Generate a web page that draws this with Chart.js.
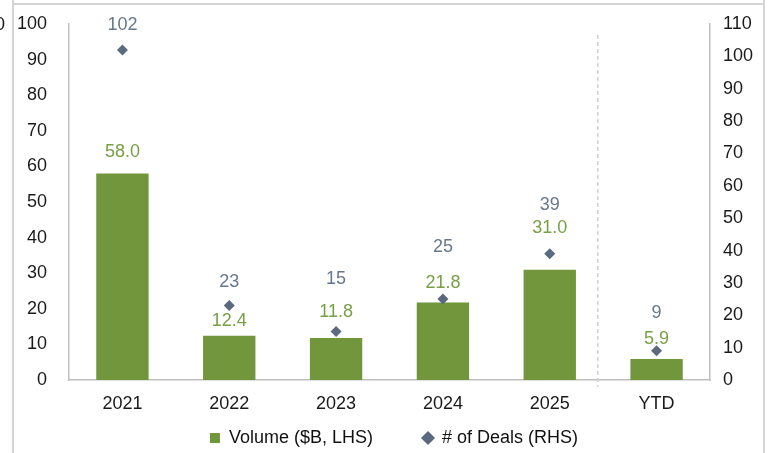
<!DOCTYPE html>
<html>
<head>
  <title>Volume and Deals</title>
  <script src="https://cdn.jsdelivr.net/npm/chart.js"></script>
  <style>
    html, body { margin: 0; padding: 0; background: #fff; }
    #wrap { width: 773px; height: 453px; }
  </style>
</head>
<body>
  <div id="wrap"><canvas id="chart" width="773" height="453"></canvas></div>

  <script>
    // chart data
    const categories = ['2021', '2022', '2023', '2024', '2025', 'YTD'];
    const volume = [58.0, 12.4, 11.8, 21.8, 31.0, 5.9];   // $B, left axis
    const deals = [102, 23, 15, 25, 39, 9];               // count, right axis

    const GREEN = '#71963C';
    const GREEN_TEXT = '#77A045';
    const SLATE = '#5B6A7E';
    const SLATE_TEXT = '#68788C';
    const AXIS = '#BFBFBF';
    const FONT = '"Liberation Sans", Arial, sans-serif';

    Chart.defaults.font.family = FONT;
    Chart.defaults.font.size = 18;
    Chart.defaults.color = '#1A1A1A';

    // white background, outer frame lines and the separator before YTD
    const framePlugin = {
      id: 'frame',
      beforeDraw(chart) {
        const ctx = chart.ctx;
        ctx.save();
        ctx.fillStyle = '#fff';
        ctx.fillRect(0, 0, chart.width, chart.height);
        ctx.strokeStyle = '#D4D4D4';
        ctx.lineWidth = 2;
        ctx.beginPath();
        ctx.moveTo(13, 0); ctx.lineTo(13, chart.height);
        ctx.moveTo(12, 4); ctx.lineTo(765, 4);
        ctx.moveTo(764, 0); ctx.lineTo(764, chart.height);
        ctx.stroke();
        // edge of the neighbouring chart's axis label
        ctx.fillStyle = '#1A1A1A';
        ctx.font = '18px ' + FONT;
        ctx.textAlign = 'right';
        ctx.textBaseline = 'middle';
        ctx.fillText('100', 5, 25);
        ctx.restore();
      },
      beforeDatasetsDraw(chart) {
        const ctx = chart.ctx;
        const x = chart.scales.x.getPixelForValue(4.45);
        const area = chart.chartArea;
        ctx.save();
        ctx.strokeStyle = '#D0D0D0';
        ctx.lineWidth = 1.5;
        ctx.setLineDash([4, 3]);
        ctx.beginPath();
        ctx.moveTo(x, area.top + 11);
        ctx.lineTo(x, area.bottom + 7);
        ctx.stroke();
        ctx.restore();
      }
    };

    // value labels above bars and diamonds (lift = px above the mark)
    const labelPlugin = {
      id: 'valueLabels',
      afterDatasetsDraw(chart, args, opts) {
        const ctx = chart.ctx;
        const x = chart.scales.x, yL = chart.scales.y, yR = chart.scales.y1;
        ctx.save();
        ctx.font = '18px ' + FONT;
        ctx.textAlign = 'center';
        ctx.textBaseline = 'middle';
        categories.forEach((c, i) => {
          const px = x.getPixelForValue(i);
          ctx.fillStyle = GREEN_TEXT;
          ctx.fillText(volume[i].toFixed(1), px, yL.getPixelForValue(volume[i]) - opts.volumeLift[i]);
          ctx.fillStyle = SLATE_TEXT;
          ctx.fillText(String(deals[i]), px, yR.getPixelForValue(deals[i]) - opts.dealLift[i]);
        });
        ctx.restore();
      }
    };

    new Chart(document.getElementById('chart'), {
      type: 'bar',
      data: {
        labels: categories,
        datasets: [
          {
            type: 'line',
            label: '# of Deals (RHS)',
            data: deals,
            yAxisID: 'y1',
            showLine: false,
            pointStyle: 'rectRot',
            pointRadius: 5.5,
            pointHoverRadius: 5.5,
            backgroundColor: SLATE,
            borderColor: SLATE,
            borderWidth: 0,
            order: 0
          },
          {
            label: 'Volume ($B, LHS)',
            data: volume,
            yAxisID: 'y',
            backgroundColor: GREEN,
            pointStyle: 'rect',
            categoryPercentage: 1,
            barPercentage: 0.49,
            order: 1
          }
        ]
      },
      options: {
        responsive: false,
        animation: false,
        layout: { padding: { left: 15, right: 0, top: 24, bottom: -4 } },
        scales: {
          x: {
            grid: { display: false, drawTicks: false },
            border: { color: AXIS, width: 1.5 },
            ticks: { padding: 13 },
            afterFit(scale) { scale.height = 39; }
          },
          y: {
            position: 'left',
            min: 0, max: 100,
            // hidden tick marks only provide the gap between axis line and labels
            grid: { display: false, drawTicks: true, tickLength: 22 },
            border: { color: AXIS, width: 1.5 },
            ticks: { stepSize: 10, padding: 0 },
            afterFit(scale) { scale.width = 54; }
          },
          y1: {
            position: 'right',
            min: 0, max: 110,
            grid: { display: false, drawTicks: true, tickLength: 13 },
            border: { color: AXIS, width: 1.5 },
            ticks: { stepSize: 10, padding: 0 },
            afterFit(scale) { scale.width = 63; }
          }
        },
        plugins: {
          tooltip: { enabled: false },
          legend: {
            position: 'bottom',
            reverse: true,
            labels: {
              usePointStyle: true,
              boxWidth: 10,
              boxHeight: 10,
              padding: 10,
              color: '#111',
              generateLabels(chart) {
                const items = Chart.defaults.plugins.legend.labels.generateLabels(chart);
                items.forEach(it => {
                  if (it.datasetIndex === 1) it.text = it.text + '\u00a0'.repeat(8);
                });
                return items;
              }
            }
          },
          valueLabels: {
            volumeLift: [21, 15, 26, 19, 42, 20],
            dealLift: [25, 24, 52, 52, 49, 38]
          }
        }
      },
      plugins: [framePlugin, labelPlugin]
    });
  </script>
</body>
</html>
